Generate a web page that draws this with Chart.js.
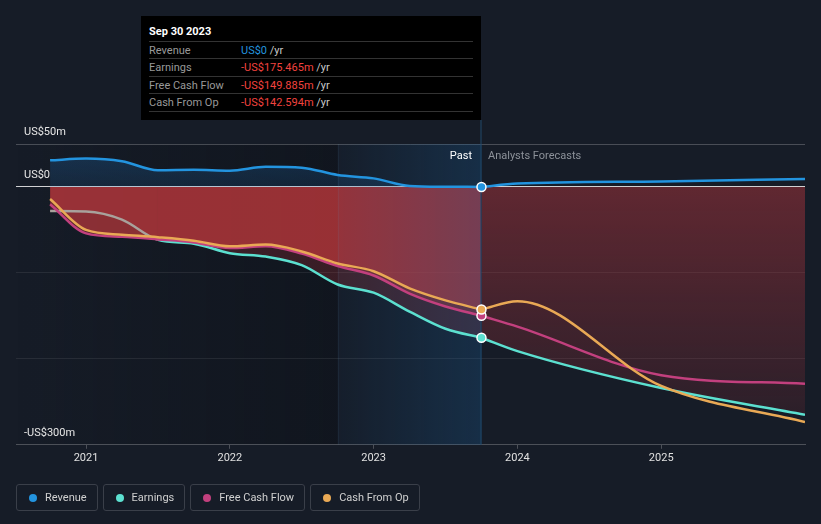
<!DOCTYPE html>
<html>
<head>
<meta charset="utf-8">
<script src="https://cdn.jsdelivr.net/npm/chart.js@4.4.1/dist/chart.umd.min.js"></script>
<style>
  body { margin: 0; background: #161c27; font-family: Roboto, "Noto Sans", sans-serif; }
  #wrap { position: relative; width: 821px; height: 524px; overflow: hidden; }
  #wrap canvas { position: absolute; left: 0; top: 0; }
  .tip { position: absolute; left: 141px; top: 16px; width: 340px; height: 104px; background: #000; font-size: 11px; }
  .tip .title { position: absolute; left: 8px; top: 9px; color: #fff; font-weight: bold; }
  .tip .row { position: absolute; left: 8px; width: 324px; height: 17px; border-top: 1px solid #333; line-height: 17px; color: #999; }
  .tip .row span.v { position: absolute; left: 92px; }
  .tip .row .yr { color: #c8c8c8; }
  .tip .end { position: absolute; left: 8px; width: 324px; top: 95px; border-top: 1px solid #333; }
  .blue { color: #2394df; }
  .red { color: #f2433f; }
  .lbl { position: absolute; top: 149px; font-size: 11px; line-height: 14px; }
  .legend { position: absolute; top: 484px; left: 16px; display: flex; gap: 5px; }
  .legend div { height: 25px; border: 1px solid #3a3f49; border-radius: 3px; color: #d0d0d0; font-size: 11px; line-height: 25px; padding: 0 10px 0 28px; position: relative; }
  .legend i { position: absolute; left: 12px; top: 9px; width: 8px; height: 8px; border-radius: 50%; }
</style>
</head>
<body>
<div id="wrap">
  <canvas id="chart" width="821" height="524"></canvas>
  <div class="tip">
    <div class="title">Sep 30 2023</div>
    <div class="row" style="top:25px">Revenue<span class="v"><span class="blue">US$0</span> <span class="yr">/yr</span></span></div>
    <div class="row" style="top:42px">Earnings<span class="v"><span class="red">-US$175.465m</span> <span class="yr">/yr</span></span></div>
    <div class="row" style="top:60px">Free Cash Flow<span class="v"><span class="red">-US$149.885m</span> <span class="yr">/yr</span></span></div>
    <div class="row" style="top:77px">Cash From Op<span class="v"><span class="red">-US$142.594m</span> <span class="yr">/yr</span></span></div>
    <div class="end"></div>
  </div>
  <div class="lbl" style="right:349px;color:#fff">Past</div>
  <div class="lbl" style="left:488px;color:#8c9199">Analysts Forecasts</div>
  <div class="legend">
    <div><i style="background:#2394df"></i>Revenue</div>
    <div><i style="background:#5ce0d0"></i>Earnings</div>
    <div><i style="background:#c2407e"></i>Free Cash Flow</div>
    <div><i style="background:#e9a955"></i>Cash From Op</div>
  </div>
</div>
<script>
// past values (US$m), quarterly, last point = Sep 30 2023
const pastYears = [2020.75, 2021, 2021.25, 2021.5, 2021.75, 2022, 2022.25, 2022.5, 2022.75, 2023, 2023.25, 2023.5, 2023.75];
const revenuePast = [31, 33, 30, 19.5, 20, 19, 23.5, 22.5, 14, 10, 1.2, 0.3, 0];
const earningsPast = [-28, -28.6, -38, -61.5, -66, -77, -81, -91, -113.5, -123, -145, -165, -175.465];
const fcfPast = [-20, -54, -58, -61, -64.5, -71, -69, -77.5, -92, -103, -124, -139, -149.885];
const cfoPast = [-14, -50, -55.5, -58.5, -62.5, -69, -67, -75, -89, -98, -118, -132, -142.594];

// analyst forecasts
const forecastYears = [2023.75, 2024, 2025, 2026];
const revenueFc = [0, 3.9, 6.4, 9.4];
const earningsFc = [-175.465, -191, -234, -265];
const fcfFc = [-149.885, -162.5, -219, -229];
const cfoFc = [-142.594, -133, -231.5, -273.5];

const yearTicks = [2021, 2022, 2023, 2024, 2025];
const yTicks = [50, 0, -100, -200, -300];
const yLabels = { '50': 'US$50m', '0': 'US$0', '-300': '-US$300m' };

const bandStart = 2022.75;
const pastEnd = 2023.75;

const colors = { revenue: '#2394df', earnings: '#5ce0d0', fcf: '#c2407e', cfo: '#e9a955' };

const pts = (xs, ys) => xs.map((x, i) => ({ x: x, y: ys[i] }));
const lastIdx = pastYears.length - 1;
const marker = ctx => ctx.dataIndex === lastIdx ? 4.5 : 0;

function redGrad(ctx) {
  const chart = ctx.chart;
  const area = chart.chartArea;
  if (!area) return 'rgba(170,52,60,0.3)';
  const y0 = chart.scales.y.getPixelForValue(0);
  const g = chart.ctx.createLinearGradient(0, y0, 0, area.bottom);
  g.addColorStop(0, 'rgba(170,52,60,0.5)');
  g.addColorStop(1, 'rgba(170,52,60,0.1)');
  return g;
}
function blueGrad(ctx) {
  const chart = ctx.chart;
  const area = chart.chartArea;
  if (!area) return 'rgba(30,120,200,0.2)';
  const y0 = chart.scales.y.getPixelForValue(0);
  const g = chart.ctx.createLinearGradient(0, area.top, 0, y0);
  g.addColorStop(0, 'rgba(30,120,200,0.28)');
  g.addColorStop(1, 'rgba(30,120,200,0.14)');
  return g;
}

const bandPlugin = {
  id: 'band',
  beforeDraw(chart) {
    const { ctx, chartArea: a, scales: { x } } = chart;
    const xb = x.getPixelForValue(bandStart);
    const g = ctx.createLinearGradient(a.left, 0, xb, 0);
    g.addColorStop(0, 'rgba(5,8,12,0)');
    g.addColorStop(1, 'rgba(5,8,12,0.3)');
    ctx.save();
    ctx.fillStyle = g;
    ctx.fillRect(a.left, a.top, xb - a.left, a.bottom - a.top);
    ctx.restore();
  },
  beforeDatasetsDraw(chart) {
    const { ctx, chartArea: a, scales: { x } } = chart;
    const xb = x.getPixelForValue(bandStart);
    const xe = x.getPixelForValue(pastEnd);
    const g = ctx.createLinearGradient(xb, 0, xe, 0);
    g.addColorStop(0, 'rgba(25,95,155,0.04)');
    g.addColorStop(1, 'rgba(25,95,155,0.28)');
    ctx.save();
    ctx.fillStyle = g;
    ctx.fillRect(xb, a.top, xe - xb, a.bottom - a.top);
    ctx.fillStyle = 'rgba(120,160,200,0.08)';
    ctx.fillRect(Math.round(xb), a.top, 1, a.bottom - a.top);
    ctx.fillStyle = '#21496a';
    ctx.fillRect(Math.round(xe) - 0.5, 120, 1, a.bottom - 120);
    ctx.restore();
  }
};

const line = (label, data, color, extra) => Object.assign({
  label: label,
  data: data,
  borderColor: color,
  borderWidth: 2.5,
  pointRadius: 0,
  pointBackgroundColor: color,
  pointBorderColor: '#fff',
  pointBorderWidth: 1.5,
  cubicInterpolationMode: 'monotone',
  fill: false
}, extra || {});

new Chart(document.getElementById('chart'), {
  type: 'line',
  data: {
    datasets: [
      line('Cash From Op', pts(pastYears, cfoPast), colors.cfo, { fill: 'origin', backgroundColor: 'rgba(205,60,62,0.45)', pointRadius: marker }),
      line('Free Cash Flow', pts(pastYears, fcfPast), colors.fcf, { fill: 'origin', backgroundColor: 'rgba(205,60,62,0.35)', pointRadius: marker }),
      line('Earnings', pts(pastYears, earningsPast), colors.earnings, {
        fill: 'origin', backgroundColor: 'rgba(205,60,62,0.22)', pointRadius: marker,
        segment: {
          borderColor: ctx => (earningsPast[ctx.p0DataIndex] > fcfPast[ctx.p0DataIndex] ||
            earningsPast[ctx.p1DataIndex] > fcfPast[ctx.p1DataIndex]) ? '#a8a29c' : undefined
        }
      }),
      line('Revenue', pts(pastYears, revenuePast), colors.revenue, { fill: 'origin', backgroundColor: blueGrad, pointRadius: marker }),
      line('Cash From Op forecast', pts(forecastYears, cfoFc), colors.cfo),
      line('Free Cash Flow forecast', pts(forecastYears, fcfFc), colors.fcf),
      line('Earnings forecast', pts(forecastYears, earningsFc), colors.earnings, { fill: 'origin', backgroundColor: redGrad }),
      line('Revenue forecast', pts(forecastYears, revenueFc), colors.revenue)
    ]
  },
  options: {
    responsive: false,
    animation: false,
    events: [],
    layout: { padding: { left: 16, right: 16, top: 144, bottom: 56 } },
    plugins: {
      legend: { display: false },
      tooltip: { enabled: false },
      filler: { drawTime: 'beforeDatasetsDraw' }
    },
    scales: {
      x: {
        type: 'linear',
        min: 2020.513,
        max: 2026,
        afterBuildTicks: s => { s.ticks = yearTicks.map(v => ({ value: v })); },
        ticks: { color: '#e0e0e0', font: { family: 'Roboto', size: 11 }, padding: 3, maxRotation: 0, callback: v => String(v) },
        grid: { drawOnChartArea: false, drawTicks: true, tickLength: 4, color: '#4c5058' },
        border: { color: '#4c5058' }
      },
      y: {
        min: -300,
        max: 50,
        afterBuildTicks: s => { s.ticks = yTicks.map(v => ({ value: v })); },
        afterFit: s => { s.width = 0; },
        ticks: {
          mirror: true, padding: 8, labelOffset: -11.5,
          color: '#e6e6e6', font: { family: 'Roboto', size: 11 },
          callback: v => yLabels[String(v)] || ''
        },
        grid: {
          drawTicks: false,
          color: ctx => ctx.tick.value === 0 ? 'rgba(255,255,255,0.8)' : ctx.tick.value === 50 ? 'rgba(255,255,255,0.22)' : 'rgba(255,255,255,0.08)'
        },
        border: { display: false }
      }
    }
  },
  plugins: [bandPlugin]
});
</script>
</body>
</html>
